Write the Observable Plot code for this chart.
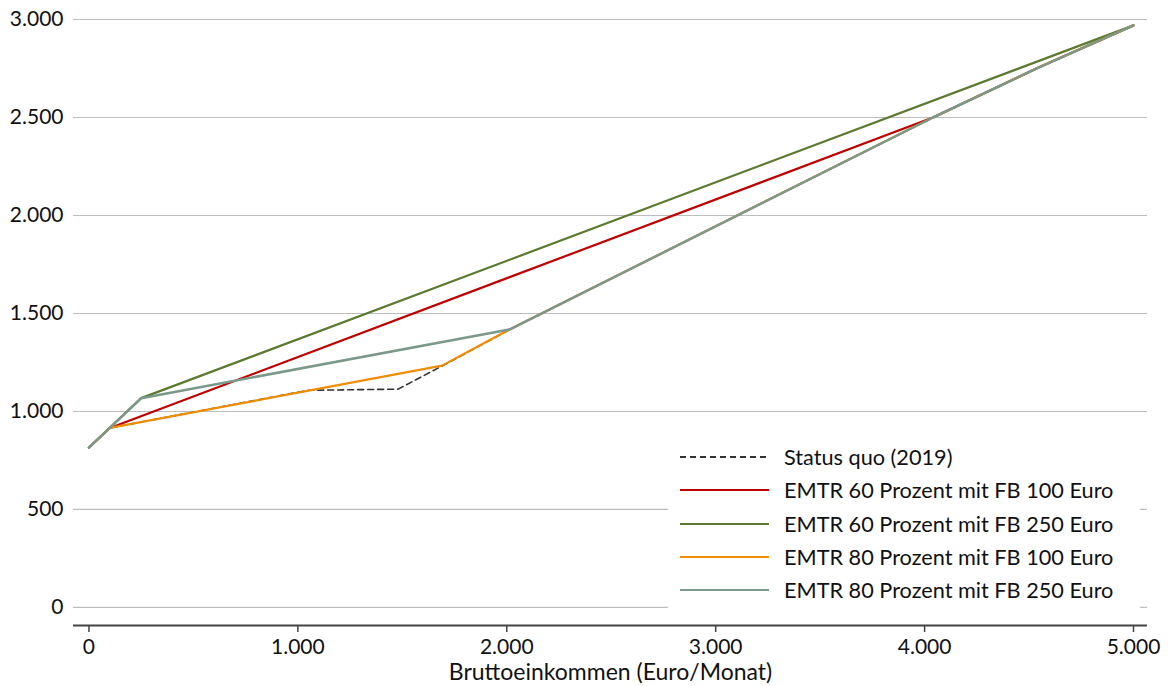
<!DOCTYPE html>
<html>
<head>
<meta charset="utf-8">
<script src="https://cdn.jsdelivr.net/npm/d3@7"></script>
<script src="https://cdn.jsdelivr.net/npm/@observablehq/plot@0.6"></script>
<style>
  html, body { margin: 0; padding: 0; background: #fff; }
  #wrap { position: relative; width: 1168px; height: 686px; font-family: Lato, "Noto Sans", sans-serif; }
  #legend { position: absolute; left: 668px; top: 436px; width: 472px; height: 174px; background: #fff; }
  .row { position: absolute; left: 12px; height: 30px; display: flex; align-items: center; }
  .row svg { width: 89px; height: 10px; margin-right: 15px; }
  .row span { font-size: 21.7px; color: #111; white-space: nowrap; }
</style>
</head>
<body>
<div id="wrap"><div id="legend"></div></div>
<script>
const seriesNames = [
  "Status quo (2019)",
  "EMTR 60 Prozent mit FB 100 Euro",
  "EMTR 60 Prozent mit FB 250 Euro",
  "EMTR 80 Prozent mit FB 100 Euro",
  "EMTR 80 Prozent mit FB 250 Euro"
];
const seriesColors = ["#333333", "#c00000", "#5b7a30", "#f08c00", "#7a998a"];

// Gross income (Euro/month) and net income per series
const sqIncome   = [0, 100, 1050, 1480, 1690, 2013, 4040, 4540, 5000];
const sqNet      = [816, 916, 1108, 1114, 1232, 1418, 2500, 2752, 2970];
const e60f100Inc = [0, 100, 4040, 4540, 5000];
const e60f100Net = [816, 916, 2500, 2752, 2970];
const e60f250Inc = [0, 250, 5000];
const e60f250Net = [816, 1068, 2970];
const e80f100Inc = [0, 100, 1690, 2013, 4040, 4540, 5000];
const e80f100Net = [816, 916, 1234, 1418, 2500, 2752, 2970];
const e80f250Inc = [0, 250, 2013, 4040, 4540, 5000];
const e80f250Net = [816, 1068, 1418, 2500, 2752, 2970];

const xTicks = [0, 1000, 2000, 3000, 4000, 5000];
const yTicks = [0, 500, 1000, 1500, 2000, 2500, 3000];
const xLabel = "Bruttoeinkommen (Euro/Monat)";

const seriesX = [sqIncome, e60f100Inc, e60f250Inc, e80f100Inc, e80f250Inc];
const seriesY = [sqNet, e60f100Net, e60f250Net, e80f100Net, e80f250Net];
const rows = [];
seriesNames.forEach((name, i) => {
  seriesX[i].forEach((x, j) => rows.push({series: name, x, y: seriesY[i][j]}));
});

const fmt = d => d3.format(",")(d).replace(/,/g, ".");
const font = "Lato, 'Noto Sans', sans-serif";

const chart = Plot.plot({
  width: 1168,
  height: 686,
  marginLeft: 73,
  marginRight: 21,
  marginTop: 19,
  marginBottom: 61,
  style: {fontFamily: font, fontSize: "21px", color: "#111", background: "#fff"},
  x: {domain: [-74, 5067]},
  y: {domain: [-92, 3000]},
  color: {domain: seriesNames, range: seriesColors},
  marks: [
    Plot.gridY(yTicks, {stroke: "#bdbdbd", strokeOpacity: 1, strokeWidth: 1.2}),
    Plot.axisY(yTicks, {tickSize: 0, tickPadding: 10, tickFormat: fmt, label: null, fontSize: 21}),
    Plot.ruleY([-92], {stroke: "#444", strokeWidth: 2}),
    Plot.axisX(xTicks, {tickSize: 7, tickPadding: 7, tickFormat: fmt, label: null, fontSize: 21, stroke: "#444", strokeWidth: 1.5}),
    Plot.text([xLabel], {frameAnchor: "bottom", dy: 54, fontSize: 23, fill: "#111"}),
    Plot.line(rows.filter(d => d.series === seriesNames[0]), {x: "x", y: "y", stroke: seriesColors[0], strokeWidth: 1.6, strokeDasharray: "6,4"}),
    ...seriesNames.slice(1).map((name, k) =>
      Plot.line(rows.filter(d => d.series === name), {x: "x", y: "y", stroke: seriesColors[k + 1], strokeWidth: k === 3 ? 2.5 : 2.2}))
  ]
});
const wrap = document.getElementById("wrap");
wrap.insertBefore(chart, wrap.firstChild);

const legend = document.getElementById("legend");
seriesNames.forEach((name, i) => {
  const row = document.createElement("div");
  row.className = "row";
  row.style.top = (6 + i * 33.3) + "px";
  const dash = i === 0 ? 'stroke-dasharray="6,4"' : "";
  row.innerHTML = `<svg><line x1="0" x2="89" y1="5" y2="5" stroke="${seriesColors[i]}" stroke-width="2.2" ${dash}/></svg><span>${name}</span>`;
  legend.appendChild(row);
});
</script>
</body>
</html>
